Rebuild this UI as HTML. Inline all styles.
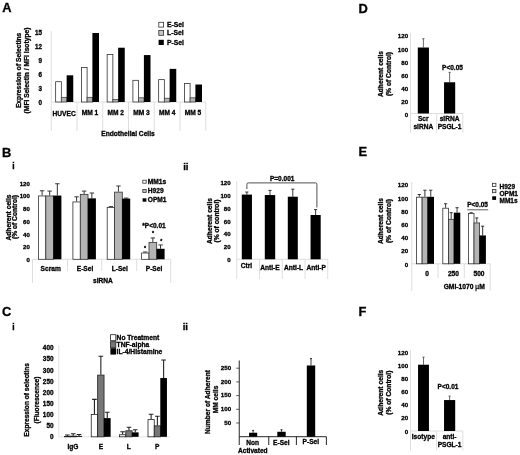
<!DOCTYPE html>
<html><head><meta charset="utf-8"><title>Figure</title>
<style>
html,body{margin:0;padding:0;background:#fff;}
svg{display:block;font-family:"Liberation Sans",Arial,sans-serif;fill:#111;}
text{stroke:#000;stroke-width:0.3px;fill:#000;}
</style></head><body>
<svg width="520" height="455" viewBox="0 0 520 455">
<defs><filter id="soft" x="0" y="0" width="520" height="455" filterUnits="userSpaceOnUse"><feGaussianBlur stdDeviation="0.33"/></filter></defs>
<rect x="0" y="0" width="520" height="455" fill="#fff"/>
<g filter="url(#soft)">
<text x="2.20" y="12.30" font-size="12.9" font-weight="bold">A</text>
<text x="2.00" y="156.80" font-size="12.9" font-weight="bold">B</text>
<text x="2.00" y="316.30" font-size="12.9" font-weight="bold">C</text>
<text x="358.50" y="12.60" font-size="12.9" font-weight="bold">D</text>
<text x="358.50" y="156.20" font-size="12.9" font-weight="bold">E</text>
<text x="358.50" y="316.20" font-size="12.9" font-weight="bold">F</text>
<text x="12.30" y="169.20" font-size="8.5" text-anchor="start" font-weight="bold">i</text>
<text x="183.20" y="169.80" font-size="9.6" text-anchor="start" font-weight="bold">ii</text>
<text x="12.30" y="329.80" font-size="8.5" text-anchor="start" font-weight="bold">i</text>
<text x="182.70" y="329.60" font-size="9.6" text-anchor="start" font-weight="bold">ii</text>
<line x1="51.25" y1="31.00" x2="51.25" y2="131.00" stroke="#d6d6d6" stroke-width="0.8"/>
<line x1="77.00" y1="102.00" x2="77.00" y2="131.00" stroke="#d6d6d6" stroke-width="0.8"/>
<line x1="102.75" y1="102.00" x2="102.75" y2="131.00" stroke="#d6d6d6" stroke-width="0.8"/>
<line x1="128.50" y1="102.00" x2="128.50" y2="131.00" stroke="#d6d6d6" stroke-width="0.8"/>
<line x1="154.25" y1="102.00" x2="154.25" y2="131.00" stroke="#d6d6d6" stroke-width="0.8"/>
<line x1="180.00" y1="102.00" x2="180.00" y2="131.00" stroke="#d6d6d6" stroke-width="0.8"/>
<line x1="205.75" y1="102.00" x2="205.75" y2="131.00" stroke="#d6d6d6" stroke-width="0.8"/>
<line x1="51.25" y1="102.00" x2="205.75" y2="102.00" stroke="#d6d6d6" stroke-width="0.8"/>
<text x="42.00" y="104.87" font-size="6.3" text-anchor="end" font-weight="bold">0</text>
<text x="42.00" y="90.87" font-size="6.3" text-anchor="end" font-weight="bold">3</text>
<text x="42.00" y="76.87" font-size="6.3" text-anchor="end" font-weight="bold">6</text>
<text x="42.00" y="62.86" font-size="6.3" text-anchor="end" font-weight="bold">9</text>
<text x="42.00" y="48.86" font-size="6.3" text-anchor="end" font-weight="bold">12</text>
<text x="42.00" y="34.86" font-size="6.3" text-anchor="end" font-weight="bold">15</text>
<rect x="55.65" y="81.70" width="5.70" height="20.30" fill="#fff" stroke="#333" stroke-width="0.8"/>
<rect x="61.35" y="97.34" width="5.50" height="4.66" fill="#b4b4b4" stroke="#444" stroke-width="0.8"/>
<rect x="66.65" y="75.32" width="6.60" height="26.68" fill="#000"/>
<rect x="81.40" y="67.44" width="5.70" height="34.56" fill="#fff" stroke="#333" stroke-width="0.8"/>
<rect x="87.10" y="97.34" width="5.50" height="4.66" fill="#b4b4b4" stroke="#444" stroke-width="0.8"/>
<rect x="92.40" y="33.00" width="6.60" height="69.00" fill="#000"/>
<rect x="107.15" y="54.56" width="5.70" height="47.44" fill="#fff" stroke="#333" stroke-width="0.8"/>
<rect x="112.85" y="99.41" width="5.50" height="2.59" fill="#b4b4b4" stroke="#444" stroke-width="0.8"/>
<rect x="118.15" y="47.72" width="6.60" height="54.28" fill="#000"/>
<rect x="132.90" y="80.32" width="5.70" height="21.68" fill="#fff" stroke="#333" stroke-width="0.8"/>
<rect x="138.60" y="97.80" width="5.50" height="4.20" fill="#b4b4b4" stroke="#444" stroke-width="0.8"/>
<rect x="143.90" y="55.08" width="6.60" height="46.92" fill="#000"/>
<rect x="158.65" y="79.63" width="5.70" height="22.37" fill="#fff" stroke="#333" stroke-width="0.8"/>
<rect x="164.35" y="98.26" width="5.50" height="3.74" fill="#b4b4b4" stroke="#444" stroke-width="0.8"/>
<rect x="169.65" y="68.88" width="6.60" height="33.12" fill="#000"/>
<rect x="184.40" y="83.54" width="5.70" height="18.46" fill="#fff" stroke="#333" stroke-width="0.8"/>
<rect x="190.10" y="97.80" width="5.50" height="4.20" fill="#b4b4b4" stroke="#444" stroke-width="0.8"/>
<rect x="195.40" y="84.52" width="6.60" height="17.48" fill="#000"/>
<text x="64.15" y="116.28" font-size="6.6" text-anchor="middle" font-weight="bold">HUVEC</text>
<text x="89.90" y="115.08" font-size="6.6" text-anchor="middle" font-weight="bold">MM 1</text>
<text x="115.65" y="115.08" font-size="6.6" text-anchor="middle" font-weight="bold">MM 2</text>
<text x="141.40" y="115.08" font-size="6.6" text-anchor="middle" font-weight="bold">MM 3</text>
<text x="167.15" y="115.08" font-size="6.6" text-anchor="middle" font-weight="bold">MM 4</text>
<text x="192.90" y="115.08" font-size="6.6" text-anchor="middle" font-weight="bold">MM 5</text>
<text x="128.00" y="135.89" font-size="6.65" text-anchor="middle" font-weight="bold">Endothelial Cells</text>
<text x="21.31" y="70.40" font-size="6.7" text-anchor="middle" font-weight="bold" transform="rotate(-90 21.31 70.40)">Expression of Selectins</text>
<text x="28.91" y="70.50" font-size="6.7" text-anchor="middle" font-weight="bold" transform="rotate(-90 28.91 70.50)">(MFI Selectin / MFI Isotype)</text>
<rect x="158.80" y="22.30" width="4.80" height="4.80" fill="#fff" stroke="#333" stroke-width="0.8"/>
<text x="167.00" y="27.15" font-size="6.8" text-anchor="start" font-weight="bold">E-Sel</text>
<rect x="158.80" y="30.50" width="4.80" height="4.80" fill="#c6c6c6" stroke="#333" stroke-width="0.8"/>
<text x="167.00" y="35.35" font-size="6.8" text-anchor="start" font-weight="bold">L-Sel</text>
<rect x="158.60" y="39.80" width="5.20" height="5.20" fill="#000"/>
<text x="167.00" y="45.05" font-size="6.8" text-anchor="start" font-weight="bold">P-Sel</text>
<line x1="32.50" y1="259.30" x2="170.75" y2="259.30" stroke="#d6d6d6" stroke-width="0.8"/>
<line x1="32.50" y1="259.30" x2="32.50" y2="283.00" stroke="#d6d6d6" stroke-width="0.8"/>
<line x1="67.50" y1="259.30" x2="67.50" y2="271.00" stroke="#d6d6d6" stroke-width="0.8"/>
<line x1="101.75" y1="259.30" x2="101.75" y2="271.00" stroke="#d6d6d6" stroke-width="0.8"/>
<line x1="136.75" y1="259.30" x2="136.75" y2="271.00" stroke="#d6d6d6" stroke-width="0.8"/>
<line x1="170.75" y1="259.30" x2="170.75" y2="283.00" stroke="#d6d6d6" stroke-width="0.8"/>
<text x="29.80" y="262.00" font-size="6.1" text-anchor="end" font-weight="bold">0</text>
<text x="29.80" y="249.25" font-size="6.1" text-anchor="end" font-weight="bold">20</text>
<text x="29.80" y="236.50" font-size="6.1" text-anchor="end" font-weight="bold">40</text>
<text x="29.80" y="223.75" font-size="6.1" text-anchor="end" font-weight="bold">60</text>
<text x="29.80" y="211.00" font-size="6.1" text-anchor="end" font-weight="bold">80</text>
<text x="29.80" y="198.25" font-size="6.1" text-anchor="end" font-weight="bold">100</text>
<text x="29.80" y="185.50" font-size="6.1" text-anchor="end" font-weight="bold">120</text>
<path d="M42.10 195.55V190.77M39.90 190.77H44.30" stroke="#222" stroke-width="0.9" fill="none"/>
<rect x="38.40" y="195.95" width="7.40" height="63.35" fill="#fff" stroke="#333" stroke-width="0.8"/>
<path d="M49.65 195.55V191.09M47.45 191.09H51.85" stroke="#222" stroke-width="0.9" fill="none"/>
<rect x="45.80" y="195.95" width="7.70" height="63.35" fill="#b4b4b4" stroke="#333" stroke-width="0.8"/>
<path d="M57.35 195.55V183.76M55.15 183.76H59.55" stroke="#222" stroke-width="0.9" fill="none"/>
<rect x="53.30" y="195.55" width="8.10" height="63.75" fill="#000"/>
<path d="M76.60 201.54V196.83M74.40 196.83H78.80" stroke="#222" stroke-width="0.9" fill="none"/>
<rect x="72.90" y="201.94" width="7.40" height="57.36" fill="#fff" stroke="#333" stroke-width="0.8"/>
<path d="M84.15 193.96V191.09M81.95 191.09H86.35" stroke="#222" stroke-width="0.9" fill="none"/>
<rect x="80.30" y="194.36" width="7.70" height="64.94" fill="#b4b4b4" stroke="#333" stroke-width="0.8"/>
<path d="M91.85 198.36V193.00M89.65 193.00H94.05" stroke="#222" stroke-width="0.9" fill="none"/>
<rect x="87.80" y="198.36" width="8.10" height="60.94" fill="#000"/>
<path d="M110.90 207.03V206.64M108.70 206.64H113.10" stroke="#222" stroke-width="0.9" fill="none"/>
<rect x="107.20" y="207.43" width="7.40" height="51.88" fill="#fff" stroke="#333" stroke-width="0.8"/>
<path d="M118.45 191.73V185.99M116.25 185.99H120.65" stroke="#222" stroke-width="0.9" fill="none"/>
<rect x="114.60" y="192.13" width="7.70" height="67.17" fill="#b4b4b4" stroke="#333" stroke-width="0.8"/>
<path d="M126.15 198.61V198.10M123.95 198.10H128.35" stroke="#222" stroke-width="0.9" fill="none"/>
<rect x="122.10" y="198.61" width="8.10" height="60.69" fill="#000"/>
<path d="M145.30 252.61V251.97M143.10 251.97H147.50" stroke="#222" stroke-width="0.9" fill="none"/>
<rect x="141.60" y="253.01" width="7.40" height="6.29" fill="#fff" stroke="#333" stroke-width="0.8"/>
<path d="M152.85 242.09V237.94M150.65 237.94H155.05" stroke="#222" stroke-width="0.9" fill="none"/>
<rect x="149.00" y="242.49" width="7.70" height="16.81" fill="#b4b4b4" stroke="#333" stroke-width="0.8"/>
<path d="M160.55 248.78V244.96M158.35 244.96H162.75" stroke="#222" stroke-width="0.9" fill="none"/>
<rect x="156.50" y="248.78" width="8.10" height="10.52" fill="#000"/>
<text x="50.70" y="270.78" font-size="6.6" text-anchor="middle" font-weight="bold">Scram</text>
<text x="85.00" y="270.78" font-size="6.6" text-anchor="middle" font-weight="bold">E-Sel</text>
<text x="119.80" y="270.78" font-size="6.6" text-anchor="middle" font-weight="bold">L-Sel</text>
<text x="154.00" y="270.78" font-size="6.6" text-anchor="middle" font-weight="bold">P-Sel</text>
<text x="103.00" y="282.88" font-size="6.6" text-anchor="middle" font-weight="bold">siRNA</text>
<text x="11.01" y="217.50" font-size="6.7" text-anchor="middle" font-weight="bold" transform="rotate(-90 11.01 217.50)">Adherent cells</text>
<text x="17.21" y="217.00" font-size="6.7" text-anchor="middle" font-weight="bold" transform="rotate(-90 17.21 217.00)">(% of Control)</text>
<rect x="142.80" y="180.20" width="3.40" height="3.00" fill="#fff" stroke="#333" stroke-width="0.8"/>
<text x="147.80" y="183.88" font-size="6.6" text-anchor="start" font-weight="bold">MM1s</text>
<rect x="142.80" y="189.40" width="3.40" height="3.00" fill="#c0c0c0" stroke="#333" stroke-width="0.8"/>
<text x="147.80" y="193.08" font-size="6.6" text-anchor="start" font-weight="bold">H929</text>
<rect x="142.60" y="198.30" width="3.80" height="3.40" fill="#000"/>
<text x="147.80" y="202.38" font-size="6.6" text-anchor="start" font-weight="bold">OPM1</text>
<text x="154.00" y="227.84" font-size="6.5" text-anchor="middle" font-weight="bold">*P&lt;0.01</text>
<text x="145.00" y="249.77" font-size="5.2" text-anchor="middle" font-weight="bold">*</text>
<text x="153.00" y="235.47" font-size="5.2" text-anchor="middle" font-weight="bold">*</text>
<text x="161.20" y="243.47" font-size="5.2" text-anchor="middle" font-weight="bold">*</text>
<line x1="236.75" y1="181.00" x2="236.75" y2="259.30" stroke="#d6d6d6" stroke-width="0.8"/>
<line x1="236.75" y1="259.30" x2="327.75" y2="259.30" stroke="#d6d6d6" stroke-width="0.8"/>
<line x1="236.75" y1="259.30" x2="236.75" y2="279.00" stroke="#d6d6d6" stroke-width="0.8"/>
<line x1="259.50" y1="259.30" x2="259.50" y2="279.00" stroke="#d6d6d6" stroke-width="0.8"/>
<line x1="282.25" y1="259.30" x2="282.25" y2="279.00" stroke="#d6d6d6" stroke-width="0.8"/>
<line x1="305.00" y1="259.30" x2="305.00" y2="279.00" stroke="#d6d6d6" stroke-width="0.8"/>
<line x1="327.75" y1="259.30" x2="327.75" y2="279.00" stroke="#d6d6d6" stroke-width="0.8"/>
<text x="230.60" y="261.80" font-size="6.1" text-anchor="end" font-weight="bold">0</text>
<text x="230.60" y="249.05" font-size="6.1" text-anchor="end" font-weight="bold">20</text>
<text x="230.60" y="236.30" font-size="6.1" text-anchor="end" font-weight="bold">40</text>
<text x="230.60" y="223.55" font-size="6.1" text-anchor="end" font-weight="bold">60</text>
<text x="230.60" y="210.80" font-size="6.1" text-anchor="end" font-weight="bold">80</text>
<text x="230.60" y="198.05" font-size="6.1" text-anchor="end" font-weight="bold">100</text>
<text x="230.60" y="185.30" font-size="6.1" text-anchor="end" font-weight="bold">120</text>
<path d="M246.88 194.59V192.04M245.28 192.04H248.47" stroke="#222" stroke-width="0.9" fill="none"/>
<rect x="241.80" y="194.59" width="10.15" height="64.71" fill="#000"/>
<path d="M270.00 195.04V190.45M268.40 190.45H271.60" stroke="#222" stroke-width="0.9" fill="none"/>
<rect x="264.80" y="195.04" width="10.40" height="64.26" fill="#000"/>
<path d="M292.80 196.70V189.18M291.20 189.18H294.40" stroke="#222" stroke-width="0.9" fill="none"/>
<rect x="287.80" y="196.70" width="10.00" height="62.60" fill="#000"/>
<path d="M315.62 214.99V209.58M314.02 209.58H317.23" stroke="#222" stroke-width="0.9" fill="none"/>
<rect x="310.55" y="214.99" width="10.15" height="44.31" fill="#000"/>
<text x="246.50" y="268.48" font-size="6.6" text-anchor="middle" font-weight="bold">Ctrl</text>
<text x="270.00" y="269.68" font-size="6.6" text-anchor="middle" font-weight="bold">Anti-E</text>
<text x="293.60" y="269.68" font-size="6.6" text-anchor="middle" font-weight="bold">Anti-L</text>
<text x="316.20" y="269.68" font-size="6.6" text-anchor="middle" font-weight="bold">Anti-P</text>
<text x="212.01" y="221.00" font-size="6.7" text-anchor="middle" font-weight="bold" transform="rotate(-90 212.01 221.00)">Adherent cells</text>
<text x="219.01" y="221.00" font-size="6.7" text-anchor="middle" font-weight="bold" transform="rotate(-90 219.01 221.00)">(% of control)</text>
<path d="M246.9 189V184.2Q246.9 182.9 248.2 182.9H315.6Q316.9 182.9 316.9 184.2V207.5" stroke="#505050" stroke-width="1" fill="none"/>
<text x="282.20" y="180.94" font-size="6.5" text-anchor="middle" font-weight="bold">P=0.001</text>
<line x1="410.50" y1="33.10" x2="410.50" y2="113.50" stroke="#d6d6d6" stroke-width="0.8"/>
<line x1="410.50" y1="113.50" x2="462.80" y2="113.50" stroke="#d6d6d6" stroke-width="0.8"/>
<line x1="410.50" y1="113.50" x2="410.50" y2="132.80" stroke="#d6d6d6" stroke-width="0.8"/>
<line x1="436.60" y1="113.50" x2="436.60" y2="132.80" stroke="#d6d6d6" stroke-width="0.8"/>
<line x1="462.80" y1="113.50" x2="462.80" y2="132.80" stroke="#d6d6d6" stroke-width="0.8"/>
<text x="408.20" y="116.88" font-size="6.2" text-anchor="end" font-weight="bold">0</text>
<text x="408.20" y="103.82" font-size="6.2" text-anchor="end" font-weight="bold">20</text>
<text x="408.20" y="90.75" font-size="6.2" text-anchor="end" font-weight="bold">40</text>
<text x="408.20" y="77.68" font-size="6.2" text-anchor="end" font-weight="bold">60</text>
<text x="408.20" y="64.62" font-size="6.2" text-anchor="end" font-weight="bold">80</text>
<text x="408.20" y="51.55" font-size="6.2" text-anchor="end" font-weight="bold">100</text>
<text x="408.20" y="38.48" font-size="6.2" text-anchor="end" font-weight="bold">120</text>
<path d="M423.38 47.51V38.69M422.27 38.69H424.48" stroke="#444" stroke-width="0.8" fill="none"/>
<rect x="417.80" y="47.51" width="11.15" height="65.99" fill="#000"/>
<path d="M449.62 82.27V72.34M448.52 72.34H450.73" stroke="#444" stroke-width="0.8" fill="none"/>
<rect x="444.05" y="82.27" width="11.15" height="31.23" fill="#000"/>
<text x="383.01" y="74.00" font-size="6.7" text-anchor="middle" font-weight="bold" transform="rotate(-90 383.01 74.00)">Adherent cells</text>
<text x="390.61" y="74.00" font-size="6.7" text-anchor="middle" font-weight="bold" transform="rotate(-90 390.61 74.00)">(% of Control)</text>
<text x="452.50" y="69.84" font-size="6.5" text-anchor="middle" font-weight="bold">P&lt;0.05</text>
<text x="423.30" y="121.28" font-size="6.6" text-anchor="middle" font-weight="bold">Scr</text>
<text x="423.30" y="129.18" font-size="6.6" text-anchor="middle" font-weight="bold">siRNA</text>
<text x="449.60" y="121.28" font-size="6.6" text-anchor="middle" font-weight="bold">siRNA</text>
<text x="449.60" y="129.18" font-size="6.6" text-anchor="middle" font-weight="bold">PSGL-1</text>
<line x1="410.50" y1="350.00" x2="410.50" y2="431.00" stroke="#d6d6d6" stroke-width="0.8"/>
<line x1="410.50" y1="431.00" x2="462.80" y2="431.00" stroke="#d6d6d6" stroke-width="0.8"/>
<line x1="410.50" y1="431.00" x2="410.50" y2="450.30" stroke="#d6d6d6" stroke-width="0.8"/>
<line x1="436.60" y1="431.00" x2="436.60" y2="450.30" stroke="#d6d6d6" stroke-width="0.8"/>
<line x1="462.80" y1="431.00" x2="462.80" y2="450.30" stroke="#d6d6d6" stroke-width="0.8"/>
<text x="408.20" y="433.53" font-size="6.2" text-anchor="end" font-weight="bold">0</text>
<text x="408.20" y="420.37" font-size="6.2" text-anchor="end" font-weight="bold">20</text>
<text x="408.20" y="407.20" font-size="6.2" text-anchor="end" font-weight="bold">40</text>
<text x="408.20" y="394.03" font-size="6.2" text-anchor="end" font-weight="bold">60</text>
<text x="408.20" y="380.87" font-size="6.2" text-anchor="end" font-weight="bold">80</text>
<text x="408.20" y="367.70" font-size="6.2" text-anchor="end" font-weight="bold">100</text>
<text x="408.20" y="354.53" font-size="6.2" text-anchor="end" font-weight="bold">120</text>
<path d="M423.50 364.71V357.13M422.40 357.13H424.60" stroke="#444" stroke-width="0.8" fill="none"/>
<rect x="418.05" y="364.71" width="10.90" height="66.29" fill="#000"/>
<path d="M449.62 400.06V396.11M448.52 396.11H450.73" stroke="#444" stroke-width="0.8" fill="none"/>
<rect x="444.05" y="400.06" width="11.15" height="30.94" fill="#000"/>
<text x="383.01" y="392.70" font-size="6.7" text-anchor="middle" font-weight="bold" transform="rotate(-90 383.01 392.70)">Adherent cells</text>
<text x="390.61" y="392.70" font-size="6.7" text-anchor="middle" font-weight="bold" transform="rotate(-90 390.61 392.70)">(% of Control)</text>
<text x="448.00" y="389.34" font-size="6.5" text-anchor="middle" font-weight="bold">P&lt;0.01</text>
<text x="423.30" y="439.18" font-size="6.6" text-anchor="middle" font-weight="bold">Isotype</text>
<text x="449.60" y="439.18" font-size="6.6" text-anchor="middle" font-weight="bold">anti-</text>
<text x="449.60" y="446.78" font-size="6.6" text-anchor="middle" font-weight="bold">PSGL-1</text>
<line x1="411.75" y1="182.00" x2="411.75" y2="263.80" stroke="#d6d6d6" stroke-width="0.8"/>
<line x1="411.75" y1="263.80" x2="490.20" y2="263.80" stroke="#d6d6d6" stroke-width="0.8"/>
<line x1="411.75" y1="263.80" x2="411.75" y2="291.00" stroke="#d6d6d6" stroke-width="0.8"/>
<line x1="438.00" y1="263.80" x2="438.00" y2="278.00" stroke="#d6d6d6" stroke-width="0.8"/>
<line x1="464.25" y1="263.80" x2="464.25" y2="278.00" stroke="#d6d6d6" stroke-width="0.8"/>
<line x1="490.20" y1="263.80" x2="490.20" y2="291.00" stroke="#d6d6d6" stroke-width="0.8"/>
<text x="408.20" y="266.63" font-size="6.2" text-anchor="end" font-weight="bold">0</text>
<text x="408.20" y="253.43" font-size="6.2" text-anchor="end" font-weight="bold">20</text>
<text x="408.20" y="240.23" font-size="6.2" text-anchor="end" font-weight="bold">40</text>
<text x="408.20" y="227.03" font-size="6.2" text-anchor="end" font-weight="bold">60</text>
<text x="408.20" y="213.83" font-size="6.2" text-anchor="end" font-weight="bold">80</text>
<text x="408.20" y="200.63" font-size="6.2" text-anchor="end" font-weight="bold">100</text>
<text x="408.20" y="187.43" font-size="6.2" text-anchor="end" font-weight="bold">120</text>
<path d="M419.30 196.81V194.50M417.70 194.50H420.90" stroke="#222" stroke-width="0.9" fill="none"/>
<rect x="416.50" y="197.21" width="5.60" height="66.59" fill="#fff" stroke="#333" stroke-width="0.8"/>
<path d="M424.90 196.81V190.21M423.30 190.21H426.50" stroke="#222" stroke-width="0.9" fill="none"/>
<rect x="422.10" y="197.21" width="5.60" height="66.59" fill="#b4b4b4" stroke="#333" stroke-width="0.8"/>
<path d="M430.75 196.81V190.21M429.15 190.21H432.35" stroke="#222" stroke-width="0.9" fill="none"/>
<rect x="427.50" y="196.81" width="6.50" height="66.99" fill="#000"/>
<path d="M445.60 207.83V203.74M444.00 203.74H447.20" stroke="#222" stroke-width="0.9" fill="none"/>
<rect x="442.80" y="208.23" width="5.60" height="55.57" fill="#fff" stroke="#333" stroke-width="0.8"/>
<path d="M451.20 218.92V212.65M449.60 212.65H452.80" stroke="#222" stroke-width="0.9" fill="none"/>
<rect x="448.40" y="219.32" width="5.60" height="44.48" fill="#b4b4b4" stroke="#333" stroke-width="0.8"/>
<path d="M457.05 212.65V207.70M455.45 207.70H458.65" stroke="#222" stroke-width="0.9" fill="none"/>
<rect x="453.80" y="212.65" width="6.50" height="51.15" fill="#000"/>
<path d="M471.20 213.11V212.72M469.60 212.72H472.80" stroke="#222" stroke-width="0.9" fill="none"/>
<rect x="468.40" y="213.51" width="5.60" height="50.29" fill="#fff" stroke="#333" stroke-width="0.8"/>
<path d="M476.80 222.55V217.93M475.20 217.93H478.40" stroke="#222" stroke-width="0.9" fill="none"/>
<rect x="474.00" y="222.95" width="5.60" height="40.85" fill="#b4b4b4" stroke="#333" stroke-width="0.8"/>
<path d="M482.65 235.42V226.18M481.05 226.18H484.25" stroke="#222" stroke-width="0.9" fill="none"/>
<rect x="479.40" y="235.42" width="6.50" height="28.38" fill="#000"/>
<text x="427.20" y="275.98" font-size="6.6" text-anchor="middle" font-weight="bold">0</text>
<text x="453.40" y="275.98" font-size="6.6" text-anchor="middle" font-weight="bold">250</text>
<text x="479.00" y="275.98" font-size="6.6" text-anchor="middle" font-weight="bold">500</text>
<text x="464.2" y="289.1" font-size="6.7" text-anchor="middle" font-weight="bold">GMI-1070 <tspan font-weight="normal">µ</tspan>M</text>
<text x="383.01" y="221.00" font-size="6.7" text-anchor="middle" font-weight="bold" transform="rotate(-90 383.01 221.00)">Adherent cells</text>
<text x="390.61" y="221.00" font-size="6.7" text-anchor="middle" font-weight="bold" transform="rotate(-90 390.61 221.00)">(% of Control)</text>
<text x="477.60" y="206.84" font-size="6.5" text-anchor="middle" font-weight="bold">P&lt;0.05</text>
<line x1="467.30" y1="209.80" x2="488.20" y2="209.80" stroke="#333" stroke-width="0.8"/>
<rect x="492.40" y="183.30" width="3.50" height="3.20" fill="#fff" stroke="#333" stroke-width="0.8"/>
<text x="499.50" y="189.24" font-size="6.5" text-anchor="start" font-weight="bold">H929</text>
<rect x="492.40" y="189.50" width="3.50" height="3.20" fill="#dcdcdc" stroke="#333" stroke-width="0.8"/>
<text x="499.50" y="195.84" font-size="6.5" text-anchor="start" font-weight="bold">OPM1</text>
<rect x="492.20" y="196.30" width="3.90" height="3.60" fill="#000"/>
<text x="499.50" y="202.74" font-size="6.5" text-anchor="start" font-weight="bold">MM1s</text>
<line x1="58.75" y1="345.00" x2="58.75" y2="436.80" stroke="#dcdcdc" stroke-width="0.8"/>
<line x1="58.75" y1="436.80" x2="170.00" y2="436.80" stroke="#dcdcdc" stroke-width="0.8"/>
<text x="53.50" y="439.40" font-size="6.4" text-anchor="end" font-weight="bold">0</text>
<text x="53.50" y="428.27" font-size="6.4" text-anchor="end" font-weight="bold">50</text>
<text x="53.50" y="417.14" font-size="6.4" text-anchor="end" font-weight="bold">100</text>
<text x="53.50" y="406.01" font-size="6.4" text-anchor="end" font-weight="bold">150</text>
<text x="53.50" y="394.88" font-size="6.4" text-anchor="end" font-weight="bold">200</text>
<text x="53.50" y="383.75" font-size="6.4" text-anchor="end" font-weight="bold">250</text>
<text x="53.50" y="372.62" font-size="6.4" text-anchor="end" font-weight="bold">300</text>
<text x="53.50" y="361.49" font-size="6.4" text-anchor="end" font-weight="bold">350</text>
<text x="53.50" y="350.36" font-size="6.4" text-anchor="end" font-weight="bold">400</text>
<path d="M67.40 436.13V435.02M65.10 435.02H69.70" stroke="#222" stroke-width="1.1" fill="none"/>
<rect x="64.50" y="436.53" width="5.80" height="0.27" fill="#fff" stroke="#222" stroke-width="0.8"/>
<path d="M73.20 435.69V433.68M70.90 433.68H75.50" stroke="#222" stroke-width="1.1" fill="none"/>
<rect x="70.30" y="436.09" width="5.80" height="0.71" fill="#777" stroke="#222" stroke-width="0.8"/>
<path d="M79.00 435.91V434.57M76.70 434.57H81.30" stroke="#222" stroke-width="1.1" fill="none"/>
<rect x="75.90" y="435.91" width="6.20" height="0.89" fill="#000"/>
<path d="M94.45 414.09V399.40M92.15 399.40H96.75" stroke="#222" stroke-width="1.1" fill="none"/>
<rect x="91.25" y="414.49" width="6.40" height="22.31" fill="#fff" stroke="#222" stroke-width="0.8"/>
<path d="M100.85 374.69V356.22M98.55 356.22H103.15" stroke="#222" stroke-width="1.1" fill="none"/>
<rect x="97.65" y="375.09" width="6.40" height="61.71" fill="#777" stroke="#222" stroke-width="0.8"/>
<path d="M107.25 418.10V412.31M104.95 412.31H109.55" stroke="#222" stroke-width="1.1" fill="none"/>
<rect x="103.85" y="418.10" width="6.80" height="18.70" fill="#000"/>
<path d="M122.65 434.35V431.68M120.35 431.68H124.95" stroke="#222" stroke-width="1.1" fill="none"/>
<rect x="119.50" y="434.75" width="6.30" height="2.05" fill="#fff" stroke="#222" stroke-width="0.8"/>
<path d="M128.95 430.34V427.23M126.65 427.23H131.25" stroke="#222" stroke-width="1.1" fill="none"/>
<rect x="125.80" y="430.74" width="6.30" height="6.06" fill="#777" stroke="#222" stroke-width="0.8"/>
<path d="M135.25 432.35V429.79M132.95 429.79H137.55" stroke="#222" stroke-width="1.1" fill="none"/>
<rect x="131.90" y="432.35" width="6.70" height="4.45" fill="#000"/>
<path d="M151.12 419.21V414.32M148.82 414.32H153.43" stroke="#222" stroke-width="1.1" fill="none"/>
<rect x="148.00" y="419.61" width="6.25" height="17.19" fill="#fff" stroke="#222" stroke-width="0.8"/>
<path d="M157.38 425.45V416.32M155.07 416.32H159.68" stroke="#222" stroke-width="1.1" fill="none"/>
<rect x="154.25" y="425.85" width="6.25" height="10.95" fill="#777" stroke="#222" stroke-width="0.8"/>
<path d="M163.62 378.03V360.00M161.32 360.00H165.93" stroke="#222" stroke-width="1.1" fill="none"/>
<rect x="160.30" y="378.03" width="6.65" height="58.77" fill="#000"/>
<text x="73.00" y="448.58" font-size="6.6" text-anchor="middle" font-weight="bold">IgG</text>
<text x="100.90" y="448.58" font-size="6.6" text-anchor="middle" font-weight="bold">E</text>
<text x="128.80" y="448.58" font-size="6.6" text-anchor="middle" font-weight="bold">L</text>
<text x="157.20" y="448.58" font-size="6.6" text-anchor="middle" font-weight="bold">P</text>
<text x="29.38" y="399.80" font-size="6.6" text-anchor="middle" font-weight="bold" transform="rotate(-90 29.38 399.80)">Expression of selectins</text>
<text x="39.18" y="400.00" font-size="6.6" text-anchor="middle" font-weight="bold" transform="rotate(-90 39.18 400.00)">(Fluorescence)</text>
<rect x="110.60" y="334.70" width="5.20" height="6.00" fill="#fff" stroke="#222" stroke-width="0.8"/>
<text x="116.60" y="339.91" font-size="6.7" text-anchor="start" font-weight="bold">No Treatment</text>
<rect x="110.60" y="341.70" width="5.20" height="6.00" fill="#777" stroke="#222" stroke-width="0.8"/>
<text x="116.60" y="346.91" font-size="6.7" text-anchor="start" font-weight="bold">TNF-alpha</text>
<rect x="110.40" y="348.20" width="5.60" height="6.40" fill="#000"/>
<text x="116.60" y="353.81" font-size="6.7" text-anchor="start" font-weight="bold">IL-4/Histamine</text>
<line x1="239.25" y1="360.50" x2="239.25" y2="436.70" stroke="#111" stroke-width="0.9"/>
<line x1="239.25" y1="436.70" x2="326.40" y2="436.70" stroke="#111" stroke-width="0.9"/>
<line x1="239.25" y1="436.70" x2="239.25" y2="445.00" stroke="#111" stroke-width="0.9"/>
<line x1="268.75" y1="436.70" x2="268.75" y2="445.00" stroke="#111" stroke-width="0.9"/>
<line x1="296.40" y1="436.70" x2="296.40" y2="445.00" stroke="#111" stroke-width="0.9"/>
<line x1="326.40" y1="436.70" x2="326.40" y2="445.00" stroke="#111" stroke-width="0.9"/>
<text x="231.20" y="424.63" font-size="6.2" text-anchor="end" font-weight="bold">50</text>
<line x1="236.20" y1="423.00" x2="239.25" y2="423.00" stroke="#333" stroke-width="0.8"/>
<text x="231.20" y="410.93" font-size="6.2" text-anchor="end" font-weight="bold">100</text>
<line x1="236.20" y1="409.30" x2="239.25" y2="409.30" stroke="#333" stroke-width="0.8"/>
<text x="231.20" y="397.23" font-size="6.2" text-anchor="end" font-weight="bold">150</text>
<line x1="236.20" y1="395.60" x2="239.25" y2="395.60" stroke="#333" stroke-width="0.8"/>
<text x="231.20" y="383.53" font-size="6.2" text-anchor="end" font-weight="bold">200</text>
<line x1="236.20" y1="381.90" x2="239.25" y2="381.90" stroke="#333" stroke-width="0.8"/>
<text x="231.20" y="369.83" font-size="6.2" text-anchor="end" font-weight="bold">250</text>
<line x1="236.20" y1="368.20" x2="239.25" y2="368.20" stroke="#333" stroke-width="0.8"/>
<path d="M253.12 432.73V430.40M252.12 430.40H254.12" stroke="#222" stroke-width="0.9" fill="none"/>
<rect x="249.05" y="432.73" width="8.15" height="3.97" fill="#000"/>
<path d="M281.50 431.77V429.71M280.50 429.71H282.50" stroke="#222" stroke-width="0.9" fill="none"/>
<rect x="277.30" y="431.77" width="8.40" height="4.93" fill="#000"/>
<path d="M311.00 365.46V358.61M310.00 358.61H312.00" stroke="#222" stroke-width="0.9" fill="none"/>
<rect x="306.80" y="365.46" width="8.40" height="71.24" fill="#000"/>
<text x="252.60" y="444.98" font-size="6.6" text-anchor="middle" font-weight="bold">Non</text>
<text x="252.80" y="452.58" font-size="6.6" text-anchor="middle" font-weight="bold">Activated</text>
<text x="281.30" y="444.68" font-size="6.6" text-anchor="middle" font-weight="bold">E-Sel</text>
<text x="310.80" y="444.18" font-size="6.6" text-anchor="middle" font-weight="bold">P-Sel</text>
<text x="209.99" y="402.00" font-size="6.65" text-anchor="middle" font-weight="bold" transform="rotate(-90 209.99 402.00)">Number of Adherent</text>
<text x="217.79" y="399.50" font-size="6.65" text-anchor="middle" font-weight="bold" transform="rotate(-90 217.79 399.50)">MM cells</text>
</g>
</svg>
</body></html>
